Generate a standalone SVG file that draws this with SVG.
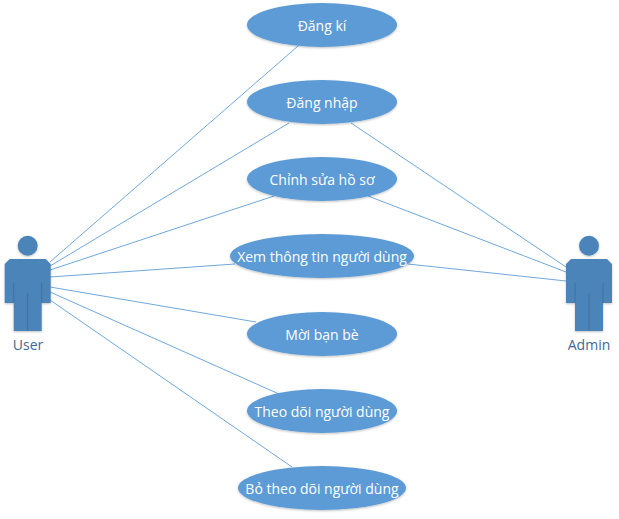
<svg xmlns="http://www.w3.org/2000/svg" width="619" height="519" viewBox="0 0 619 519">
<defs>
<filter id="sh" x="-10%" y="-10%" width="120%" height="125%"><feDropShadow dx="0" dy="1" stdDeviation="1" flood-color="#000" flood-opacity="0.25"/></filter>
<g id="actor"><circle cx="0" cy="20.700" r="10" class="a"/><path d="M-23 39L-18 34H18L23 39V78H14V106H-14V78H-23Z" class="a"/><path d="M-14 58V78M14 58V78M0 68V106" fill="none" stroke="#41719c" stroke-width="1"/></g>
</defs>
<style>
.a{fill:#4c84b8;filter:url(#sh)}
.e{fill:#5b9bd5;filter:url(#sh)}
.t{fill:#fff;font:14px "Open Sans","Noto Sans",sans-serif;text-anchor:middle}
.l{fill:#3f6797;font:14px "Open Sans","Noto Sans",sans-serif;text-anchor:middle}
#connectors line{stroke:#6fa8dc;stroke-width:1}
</style>
<rect width="619" height="519" fill="#fff"/>
<g id="connectors">
<line x1="50" y1="262" x2="298" y2="46"/><line x1="50" y1="266" x2="289" y2="123"/><line x1="50" y1="270" x2="274" y2="196"/><line x1="50" y1="277" x2="235" y2="264"/><line x1="50" y1="287" x2="256" y2="322"/><line x1="50" y1="292" x2="279" y2="394"/><line x1="50" y1="300" x2="292" y2="467"/>
<line x1="351" y1="123" x2="566" y2="267"/><line x1="368" y1="196" x2="566" y2="272"/><line x1="408" y1="264" x2="566" y2="281"/>
</g>
<g id="user"><use href="#actor" x="27.700" y="225"/><text class="l" x="28" y="350">User</text></g>
<g id="admin"><use href="#actor" x="589" y="225"/><text class="l" x="589" y="350">Admin</text></g>
<g id="uc1"><ellipse class="e" cx="322" cy="25" rx="75" ry="22"/><text class="t" x="322" y="31">Đăng kí</text></g>
<g id="uc2"><ellipse class="e" cx="322" cy="102" rx="75" ry="22"/><text class="t" x="322" y="108">Đăng nhập</text></g>
<g id="uc3"><ellipse class="e" cx="322" cy="179" rx="75" ry="22"/><text class="t" x="322" y="185">Chỉnh sửa hồ sơ</text></g>
<g id="uc4"><ellipse class="e" cx="322" cy="256" rx="92" ry="22"/><text class="t" x="322" y="262">Xem thông tin người dùng</text></g>
<g id="uc5"><ellipse class="e" cx="322" cy="334" rx="75" ry="22"/><text class="t" x="322" y="340">Mời bạn bè</text></g>
<g id="uc6"><ellipse class="e" cx="322" cy="411" rx="75" ry="22"/><text class="t" x="322" y="417">Theo dõi người dùng</text></g>
<g id="uc7"><ellipse class="e" cx="322" cy="488" rx="84" ry="22"/><text class="t" x="322" y="494">Bỏ theo dõi người dùng</text></g>
</svg>
